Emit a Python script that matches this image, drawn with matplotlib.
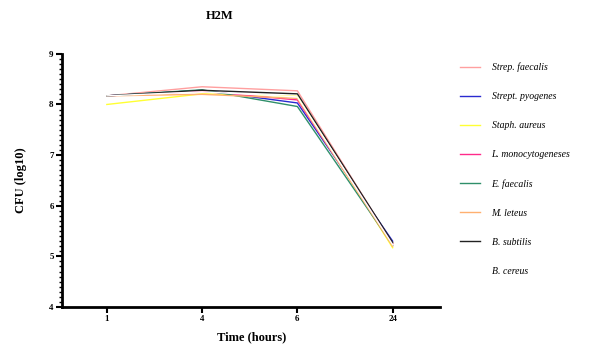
import matplotlib
matplotlib.use("Agg")
import matplotlib.pyplot as plt
from matplotlib.ticker import MultipleLocator

# Data
time_labels = ["1", "4", "6", "24"]
species = ["Strep. faecalis", "Strept. pyogenes", "Staph. aureus",
           "L. monocytogeneses", "E. faecalis", "M. leteus",
           "B. subtilis", "B. cereus"]
strep_faecalis = [8.17, 8.35, 8.27, 5.25]
strept_pyogenes = [8.17, 8.28, 8.03, 5.30]
staph_aureus = [8.00, 8.21, 8.16, 5.17]
l_mono = [8.17, 8.26, 8.09, 5.25]
e_faecalis = [8.17, 8.29, 7.96, 5.22]
m_leteus = [8.17, 8.20, 8.12, 5.20]
b_subtilis = [8.17, 8.28, 8.21, 5.27]
b_cereus = [8.17, 8.25, 8.15, 5.23]
series = [strep_faecalis, strept_pyogenes, staph_aureus, l_mono,
          e_faecalis, m_leteus, b_subtilis, b_cereus]
colors = ["#ff9f9f", "#2a2ad0", "#ffff33", "#ff2a8a",
          "#2f8f6a", "#ffb070", "#222222", "white"]

plt.rcParams['font.family'] = ['Liberation Serif', 'DejaVu Serif']

fig = plt.figure(figsize=(5.91, 3.52), dpi=100)
ax = fig.add_axes([0.105, 0.128, 0.64, 0.719])

x = list(range(len(time_labels)))
for name, vals, c in zip(species, series, colors):
    ax.plot(x, vals, color=c, linewidth=1.0, label=name)

ax.set_xlim(-0.47, 3.5)
ax.set_ylim(4, 9)
ax.set_xticks(x)
ax.set_xticklabels(time_labels, fontsize=6.5, fontweight='bold')
ax.yaxis.set_major_locator(MultipleLocator(1))
ax.yaxis.set_minor_locator(MultipleLocator(0.1))
for lab in ax.get_yticklabels():
    lab.set_fontsize(6.5)
    lab.set_fontweight('bold')

for s in ['top', 'right']:
    ax.spines[s].set_visible(False)
for s in ['left', 'bottom']:
    ax.spines[s].set_linewidth(2)
ax.tick_params(axis='both', which='major', width=1.5, length=4, pad=2)
ax.tick_params(axis='y', which='minor', width=1, length=2)

ax.set_xlabel("Time (hours)", fontsize=9, fontweight='bold', labelpad=6)
ax.set_ylabel("CFU (log10)", fontsize=9, fontweight='bold', labelpad=16)
fig.text(0.372, 0.955, "H2M", fontsize=9, fontweight='bold', ha='center', va='center')

leg = ax.legend(loc='upper left', bbox_to_anchor=(1.03, 1.0), frameon=False,
                prop={'style': 'italic', 'size': 7}, handlelength=2.0,
                handletextpad=1.2, labelspacing=2.05)

fig.savefig("out.png", dpi=100)
